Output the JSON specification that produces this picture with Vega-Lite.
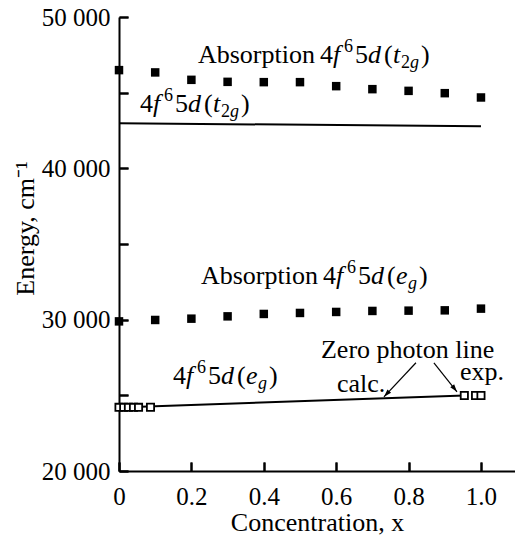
{
  "$schema": "https://vega.github.io/schema/vega-lite/v6.json",
  "autosize": {"type": "none"},
  "padding": {"left": 119, "top": 17, "right": 0, "bottom": 65},
  "width": 396,
  "height": 454,
  "background": "white",
  "config": {
    "view": {"stroke": null},
    "font": "Liberation Serif",
    "text": {"font": "Liberation Serif", "fontSize": 26, "color": "black", "align": "left", "baseline": "alphabetic"}
  },
  "datasets": {
    "abs": [
      {"x": 0.0, "e": 46490, "band": "t2g"}, {"x": 0.1, "e": 46338, "band": "t2g"}, {"x": 0.2, "e": 45848, "band": "t2g"},
      {"x": 0.3, "e": 45715, "band": "t2g"}, {"x": 0.4, "e": 45695, "band": "t2g"}, {"x": 0.5, "e": 45695, "band": "t2g"},
      {"x": 0.6, "e": 45430, "band": "t2g"}, {"x": 0.7, "e": 45232, "band": "t2g"}, {"x": 0.8, "e": 45119, "band": "t2g"},
      {"x": 0.9, "e": 44967, "band": "t2g"}, {"x": 1.0, "e": 44682, "band": "t2g"},
      {"x": 0.0, "e": 29887, "band": "eg"}, {"x": 0.1, "e": 29980, "band": "eg"}, {"x": 0.2, "e": 30066, "band": "eg"},
      {"x": 0.3, "e": 30219, "band": "eg"}, {"x": 0.4, "e": 30378, "band": "eg"}, {"x": 0.5, "e": 30444, "band": "eg"},
      {"x": 0.6, "e": 30510, "band": "eg"}, {"x": 0.7, "e": 30576, "band": "eg"}, {"x": 0.8, "e": 30596, "band": "eg"},
      {"x": 0.9, "e": 30616, "band": "eg"}, {"x": 1.0, "e": 30729, "band": "eg"}
    ],
    "calc": [
      {"x": 0.0, "e": 42980, "series": "t2g"}, {"x": 1.0, "e": 42781, "series": "t2g"},
      {"x": 0.0, "e": 24200, "series": "eg"}, {"x": 0.954, "e": 24990, "series": "eg"}
    ],
    "zpl": [
      {"x": 0.0, "e": 24205}, {"x": 0.013, "e": 24205}, {"x": 0.026, "e": 24205}, {"x": 0.04, "e": 24205},
      {"x": 0.054, "e": 24205}, {"x": 0.087, "e": 24215},
      {"x": 0.954, "e": 24990}, {"x": 0.985, "e": 24990}, {"x": 1.0, "e": 24990}
    ],
    "formula": [
      {"x": 0.5552, "e": 46993, "pre": "Absorption", "inner": "t"},
      {"x": 0.058, "e": 43755, "pre": "", "inner": "t"},
      {"x": 0.5635, "e": 32324, "pre": "Absorption", "inner": "e"},
      {"x": 0.1492, "e": 25716, "pre": "", "inner": "e"}
    ],
    "notes": [
      {"x": 0.558, "e": 27483, "label": "Zero photon line"},
      {"x": 0.602, "e": 25252, "label": "calc."},
      {"x": 0.942, "e": 26027, "label": "exp."}
    ],
    "arrows": [
      {"id": "a1", "x": 0.8204, "e": 27152, "x2": 0.732, "e2": 24901},
      {"id": "a2", "x": 0.870, "e": 27152, "x2": 0.9337, "e2": 25232}
    ]
  },
  "layer": [
    {
      "data": {"name": "abs"},
      "mark": {"type": "point", "shape": "square", "filled": true, "color": "black", "opacity": 1, "size": 72},
      "encoding": {
        "x": {
          "field": "x", "type": "quantitative",
          "scale": {"domain": [0, 1.094], "nice": false, "zero": false},
          "axis": {
            "values": [0, 0.1, 0.2, 0.3, 0.4, 0.5, 0.6, 0.7, 0.8, 0.9, 1.0],
            "ticks": true, "tickSize": -9, "tickWidth": 2, "tickColor": "black", "tickOpacity": 1,
            "grid": true, "gridColor": "black", "gridWidth": 2, "gridOpacity": 1, "gridDash": [0, 445, 9, 2000],
            "domainColor": "black", "domainWidth": 2,
            "labelFont": "Liberation Serif", "labelFontSize": 25, "labelColor": "black",
            "labelPadding": 22, "labelFlush": false, "labelOverlap": false,
            "labelExpr": "round(datum.value*10)%2==1 ? '' : (datum.value==0 ? '0' : format(datum.value,'.1f'))",
            "title": "Concentration, x", "titleFont": "Liberation Serif", "titleFontSize": 26,
            "titleFontWeight": "normal", "titleColor": "black",
            "titleBaseline": "alphabetic", "titleY": 59
          }
        },
        "y": {
          "field": "e", "type": "quantitative",
          "scale": {"domain": [20000, 50000], "nice": false, "zero": false},
          "axis": {
            "values": [20000, 25000, 30000, 35000, 40000, 45000, 50000],
            "ticks": true, "tickSize": -9, "tickWidth": 2, "tickColor": "black", "tickOpacity": 1,
            "grid": true, "gridColor": "black", "gridWidth": 2, "gridOpacity": 1, "gridDash": [9, 2000],
            "domainColor": "black", "domainWidth": 2,
            "labelFont": "Liberation Serif", "labelFontSize": 25, "labelColor": "black",
            "labelPadding": 18, "labelFlush": false, "labelOverlap": false,
            "labelExpr": "datum.value % 10000 == 0 ? replace(format(datum.value, ','), ',', ' ') : ''",
            "title": "Energy, cm⁻¹", "titleFont": "Liberation Serif", "titleFontSize": 26,
            "titleFontWeight": "normal", "titleColor": "black",
            "titleBaseline": "alphabetic", "titleAlign": "center", "titleAngle": -90,
            "titleX": -86, "titleY": 211
          }
        }
      }
    },
    {
      "mark": {"type": "rule", "color": "black", "strokeWidth": 2},
      "encoding": {"y": {"datum": 50000}}
    },
    {
      "data": {"name": "calc"},
      "mark": {"type": "line", "color": "black", "strokeWidth": 2},
      "encoding": {
        "x": {"field": "x", "type": "quantitative"},
        "y": {"field": "e", "type": "quantitative"},
        "detail": {"field": "series"}
      }
    },
    {
      "data": {"name": "zpl"},
      "mark": {"type": "point", "shape": "square", "filled": true, "fill": "white", "stroke": "black", "strokeWidth": 1.8, "opacity": 1, "size": 52},
      "encoding": {
        "x": {"field": "x", "type": "quantitative"},
        "y": {"field": "e", "type": "quantitative"}
      }
    },
    {
      "data": {"name": "arrows"},
      "mark": {"type": "rule", "color": "black", "strokeWidth": 1.2},
      "encoding": {
        "x": {"field": "x", "type": "quantitative"},
        "y": {"field": "e", "type": "quantitative"},
        "x2": {"field": "x2"},
        "y2": {"field": "e2"}
      }
    },
    {
      "data": {"name": "arrows"},
      "transform": [{"filter": "datum.id == 'a1'"}],
      "mark": {"type": "point", "shape": "M0,0L-0.35,1.1L0.35,1.1Z", "filled": true, "color": "black", "opacity": 1, "size": 200, "angle": 223},
      "encoding": {
        "x": {"field": "x2", "type": "quantitative"},
        "y": {"field": "e2", "type": "quantitative"}
      }
    },
    {
      "data": {"name": "arrows"},
      "transform": [{"filter": "datum.id == 'a2'"}],
      "mark": {"type": "point", "shape": "M0,0L-0.35,1.1L0.35,1.1Z", "filled": true, "color": "black", "opacity": 1, "size": 200, "angle": 142},
      "encoding": {
        "x": {"field": "x2", "type": "quantitative"},
        "y": {"field": "e2", "type": "quantitative"}
      }
    },
    {
      "data": {"name": "notes"},
      "mark": {"type": "text"},
      "encoding": {
        "x": {"field": "x", "type": "quantitative"},
        "y": {"field": "e", "type": "quantitative"},
        "text": {"field": "label"}
      }
    },
    {
      "data": {"name": "formula"},
      "encoding": {
        "x": {"field": "x", "type": "quantitative"},
        "y": {"field": "e", "type": "quantitative"}
      },
      "layer": [
        {"mark": {"type": "text", "align": "right", "dx": -5}, "encoding": {"text": {"field": "pre"}}},
        {"mark": {"type": "text", "text": "4", "dx": 0}},
        {"mark": {"type": "text", "text": "f", "dx": 13, "fontStyle": "italic"}},
        {"mark": {"type": "text", "text": "6", "dx": 24, "dy": -11, "fontSize": 18}},
        {"mark": {"type": "text", "text": "5", "dx": 35}},
        {"mark": {"type": "text", "text": "d", "dx": 48, "fontStyle": "italic"}},
        {"mark": {"type": "text", "text": "(", "dx": 64}},
        {"mark": {"type": "text", "dx": 73, "fontStyle": "italic"}, "encoding": {"text": {"field": "inner"}}},
        {
          "transform": [{"filter": "datum.inner == 't'"}],
          "layer": [
            {"mark": {"type": "text", "text": "2", "dx": 81, "dy": 5, "fontSize": 18}},
            {"mark": {"type": "text", "text": "g", "dx": 90, "dy": 5, "fontSize": 18, "fontStyle": "italic"}},
            {"mark": {"type": "text", "text": ")", "dx": 101}}
          ]
        },
        {
          "transform": [{"filter": "datum.inner == 'e'"}],
          "layer": [
            {"mark": {"type": "text", "text": "g", "dx": 85, "dy": 5, "fontSize": 18, "fontStyle": "italic"}},
            {"mark": {"type": "text", "text": ")", "dx": 96}}
          ]
        }
      ]
    }
  ]
}
